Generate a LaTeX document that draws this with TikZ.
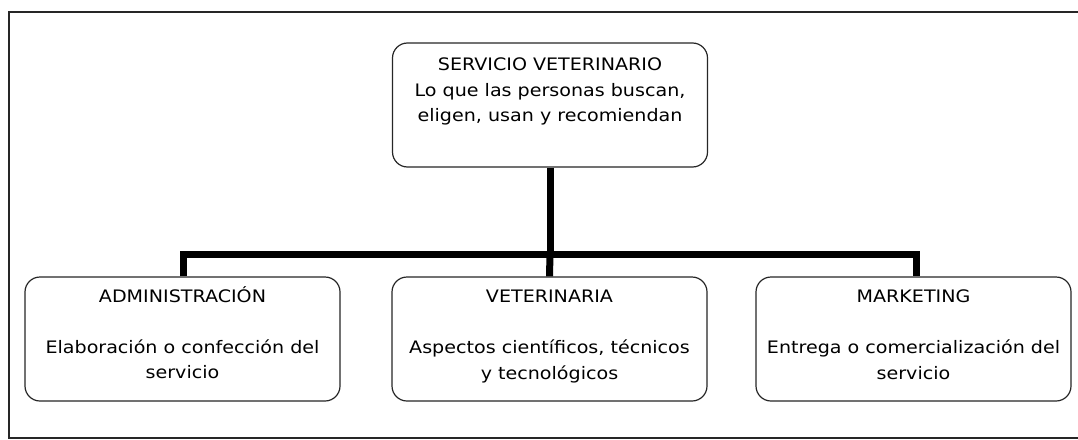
\documentclass[tikz,border=0pt]{standalone}
\usepackage{fontspec}
\setmainfont[FakeStretch=1.11]{DejaVu Sans}
\begin{document}
\begin{tikzpicture}[x=1pt,y=-1pt,
  box/.style={draw=black!85, line width=1.2pt, rounded corners=15pt, minimum width=315pt, minimum height=124pt, inner sep=0pt, fill=white},
  txt/.style={font=\fontsize{17.2}{25.5}\selectfont, align=center, inner sep=0pt, anchor=north},
  link/.style={line width=7pt, line join=miter}]
\useasboundingbox (0,0) rectangle (1078,439);
\clip (0,0) rectangle (1078,439);
\draw[line width=2pt, black!85] (1090,11.5) -- (9,11.5) -- (9,438) -- (1090,438);
\node[box] (top) at (550,105) {};
\node[box] (adm) at (182.5,339) {};
\node[box] (vet) at (549.5,339) {};
\node[box] (mkt) at (913.5,339) {};
\coordinate (bar) at (550,254);
\draw[link] (top.south) -- (bar);
\draw[link] (adm.north -| 183,0) |- (bar) -| (mkt.north -| 916,0);
\draw[link] (bar) -- (vet.north);
\node[txt] (ttop) at (550,58) {SERVICIO VETERINARIO\\Lo que las personas buscan,\\eligen, usan y recomiendan};
\node[txt] (tadm) at (182.5,286) {ADMINISTRACIÓN\\[25.5pt]Elaboración o confección del\\servicio};
\node[txt] (tvet) at (549.5,290) {VETERINARIA\\[25.5pt]Aspectos científicos, técnicos\\y tecnológicos};
\node[txt] (tmkt) at (913.5,290) {MARKETING\\[25.5pt]Entrega o comercialización del\\servicio};
\end{tikzpicture}
\end{document}
